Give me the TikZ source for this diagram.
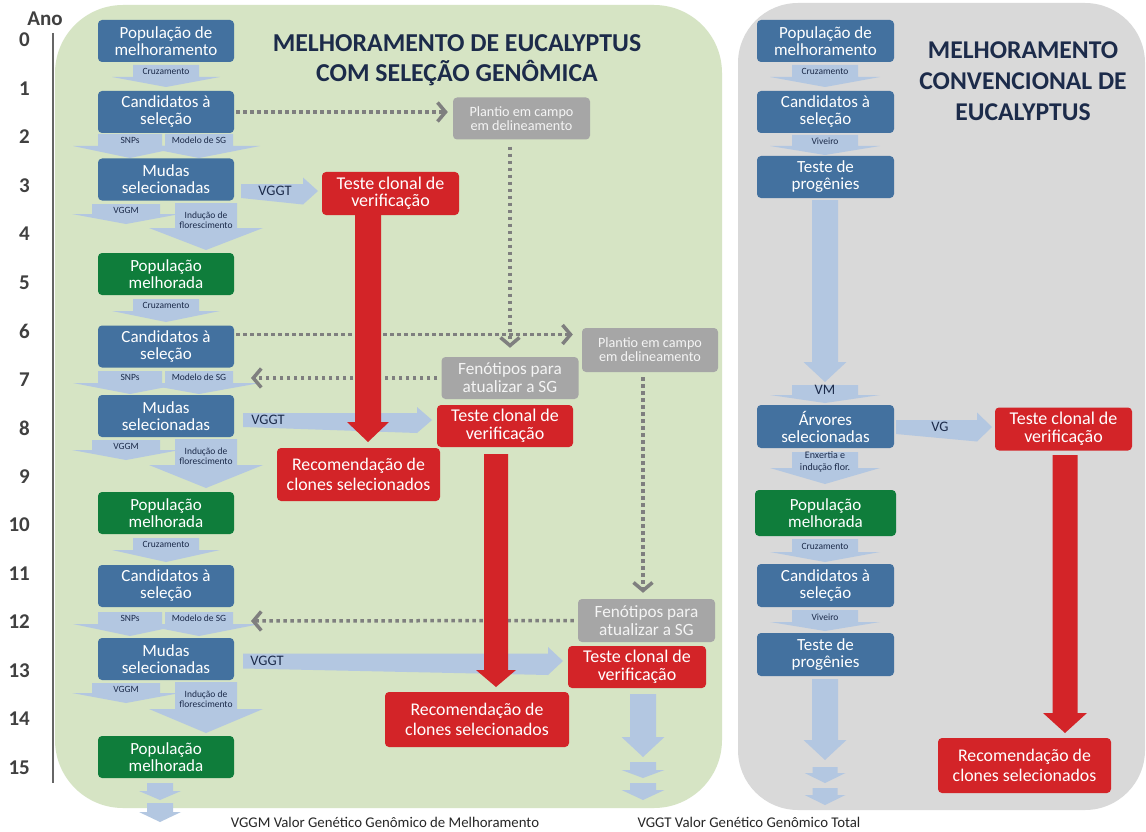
\documentclass[tikz,border=0pt]{standalone}
\usepackage{fontspec}
\setmainfont{Carlito}
\usetikzlibrary{arrows.meta}
\definecolor{panelgreen}{HTML}{D6E4C4}
\definecolor{panelgray}{HTML}{D9D9D9}
\definecolor{boxblue}{HTML}{43719F}
\definecolor{boxgreen}{HTML}{0F7D3B}
\definecolor{boxred}{HTML}{D32428}
\definecolor{boxgray}{HTML}{A6A6A6}
\definecolor{graytext}{HTML}{F4F4F4}
\definecolor{arrowblue}{HTML}{B3C7E1}
\definecolor{dotgray}{HTML}{7F7F7F}
\definecolor{navy}{HTML}{1C2B4A}
\definecolor{yeargray}{HTML}{404040}
\newcommand\DArr[7][arrowblue]{\fill[#1] (#2-#4,#3) -- (#2+#4,#3) -- (#2+#4,#5) -- (#2+#6,#5) -- (#2,#7) -- (#2-#6,#5) -- (#2-#4,#5) -- cycle;}
\newcommand\RArr[7][arrowblue]{\fill[#1] (#3,#2-#4) -- (#5,#2-#4) -- (#5,#2-#6) -- (#7,#2) -- (#5,#2+#6) -- (#3,#2+#4) -- cycle;}
\begin{document}
\begin{tikzpicture}[x=1pt,y=-1pt,
 boxbase/.style={rounded corners=4pt, align=center, inner sep=0pt, text=white},
 bluebox/.style={boxbase, fill=boxblue, minimum width=136pt, minimum height=42pt, font=\fontsize{17}{17}\selectfont},
 greenbox/.style={boxbase, fill=boxgreen, minimum width=136pt, minimum height=42pt, font=\fontsize{17}{17}\selectfont},
 redbox/.style={boxbase, fill=boxred, minimum width=137pt, minimum height=43pt, font=\fontsize{18}{17.5}\selectfont},
 recbox/.style={boxbase, fill=boxred, minimum height=54pt, font=\fontsize{17.8}{20}\selectfont},
 plantbox/.style={boxbase, fill=boxgray, text=graytext, minimum width=137pt, minimum height=42pt, font=\fontsize{14.2}{14}\selectfont},
 fenbox/.style={boxbase, fill=boxgray, text=graytext, minimum width=137pt, minimum height=42pt, font=\fontsize{17.2}{18}\selectfont},
 albl/.style={font=\fontsize{9.5}{10}\selectfont, text=navy, inner sep=0pt, align=center},
 mlbl/.style={font=\fontsize{14.5}{14}\selectfont, text=navy, inner sep=0pt},
 dotconn/.style={draw=dotgray, line width=3.5pt, dash pattern=on 3.5pt off 3.5pt, -{Straight Barb[length=8pt,width=19pt,line width=3.5pt]}},
 yearlbl/.style={font=\fontsize{21}{21}\selectfont\bfseries, text=yeargray, inner sep=0pt, anchor=east},
 ttl/.style={font=\fontsize{25.8}{30}\selectfont\bfseries, text=navy, align=center, inner sep=0pt},
 ttlr/.style={font=\fontsize{25.6}{31}\selectfont\bfseries, text=navy, align=center, inner sep=0pt},
 foot/.style={font=\fontsize{14.8}{14}\selectfont, text=black!85, inner sep=0pt}
]
\useasboundingbox (0,0) rectangle (1146,832);
\fill[white] (0,0) rectangle (1146,832);
% panels
\fill[panelgreen, rounded corners=68pt] (55,5) rectangle (722,808);
\fill[panelgray, rounded corners=60pt] (738,3) rectangle (1145,810);
% year axis
\node[yearlbl, anchor=center] (ano) at (45,19) {Ano};
\foreach \n in {0,...,15} \node[yearlbl] (yr\n) at (30,40+48.5*\n) {\n};
\draw[yeargray!80, line width=2pt] (53,33) -- (53,783);
% titles
\node[ttl] (t1) at (457,60) {MELHORAMENTO DE EUCALYPTUS\\COM SELEÇÃO GENÔMICA};
\node[ttlr] (t2) at (1023,81) {MELHORAMENTO\\CONVENCIONAL DE\\EUCALYPTUS};
% ---------- left column block arrows ----------
\DArr{166}{65}{33}{77}{54}{87}
\DArr{166}{299}{33}{311}{54}{322}
\DArr{166}{538}{33}{550}{54}{562}
\DArr{130}{134}{32}{146}{57}{158}
\DArr{199}{134}{34}{146}{61}{158}
\DArr{130}{371}{32}{383}{57}{394}
\DArr{199}{371}{34}{383}{61}{394}
\DArr{130}{612}{32}{624}{57}{636}
\DArr{199}{612}{34}{624}{61}{636}
\DArr{126}{204}{34}{214}{54}{224}
\DArr{206}{203}{31}{228}{57}{250}
\DArr{126}{440}{34}{450}{54}{460}
\DArr{206}{439}{31}{465}{57}{488}
\DArr{126}{683}{34}{693}{54}{703}
\DArr{206}{682}{31}{709}{57}{733}
\DArr{160}{783}{13}{791}{21}{800}
\DArr{160}{803}{13}{812}{21}{822}
% ---------- right column block arrows ----------
\DArr{825}{65}{33}{77}{55}{87}
\DArr{825}{135}{33}{146}{55}{155}
\DArr{825}{200}{13}{362}{21.5}{382}
\DArr{825}{385}{33}{395}{55}{403}
\DArr{825}{452}{33}{468}{55}{484}
\DArr{825}{539}{33}{552}{55}{562}
\DArr{825}{610}{33}{622}{55}{631}
\DArr{825}{679}{13}{740}{21.5}{760}
\DArr{825}{767}{12.5}{773}{20.5}{783}
\DArr{825}{788}{12.5}{795}{20.5}{805}
\RArr{427}{896}{7}{977}{14.5}{992}
% ---------- middle block arrows ----------
\RArr{191}{241}{7}{303}{13.5}{318}
\RArr{420}{243}{7}{417}{13}{432}
\RArr{661}{243}{7.5}{548}{14}{563}
\DArr{643}{694}{13}{737}{21.5}{757}
\DArr{643}{762}{13}{770}{21.5}{778}
\DArr{643}{783}{13}{790}{21.5}{800}
% ---------- left column boxes ----------
\node[bluebox] (L0) at (166,41) {População de\\melhoramento};
\node[bluebox] (L1) at (166,112) {Candidatos à\\seleção};
\node[bluebox] (L2) at (166,179.5) {Mudas\\selecionadas};
\node[greenbox] (L3) at (166,274) {População\\melhorada};
\node[bluebox] (L4) at (166,346.5) {Candidatos à\\seleção};
\node[bluebox] (L5) at (166,416) {Mudas\\selecionadas};
\node[greenbox] (L6) at (166,513) {População\\melhorada};
\node[bluebox] (L7) at (166,586) {Candidatos à\\seleção};
\node[bluebox] (L8) at (166,659) {Mudas\\selecionadas};
\node[greenbox] (L9) at (166,757) {População\\melhorada};
% arrow labels left
\node[albl] (c1) at (166,71) {Cruzamento};
\node[albl] (c2) at (166,305) {Cruzamento};
\node[albl] (c3) at (166,544) {Cruzamento};
\node[albl] (s1) at (130,140.5) {SNPs};
\node[albl] (m1) at (199,140.5) {Modelo de SG};
\node[albl] (s2) at (130,377.5) {SNPs};
\node[albl] (m2) at (199,377.5) {Modelo de SG};
\node[albl] (s3) at (130,618.5) {SNPs};
\node[albl] (m3) at (199,618.5) {Modelo de SG};
\node[albl] (g1) at (126,210) {VGGM};
\node[albl] (i1) at (206,220) {Indução de\\florescimento};
\node[albl] (g2) at (126,446) {VGGM};
\node[albl] (i2) at (206,456) {Indução de\\florescimento};
\node[albl] (g3) at (126,689) {VGGM};
\node[albl] (i3) at (206,699) {Indução de\\florescimento};
% ---------- right column boxes ----------
\node[bluebox, minimum width=137pt] (R0) at (825.5,41) {População de\\melhoramento};
\node[bluebox, minimum width=137pt] (R1) at (825.5,112) {Candidatos à\\seleção};
\node[bluebox, minimum width=137pt] (R2) at (825.5,177) {Teste de\\progênies};
\node[bluebox, minimum width=137pt, minimum height=43pt] (R3) at (825.5,426.5) {Árvores\\selecionadas};
\node[greenbox, minimum width=141pt, minimum height=46pt] (R4) at (825.5,513) {População\\melhorada};
\node[bluebox, minimum width=137pt, minimum height=43pt] (R5) at (825.5,585.5) {Candidatos à\\seleção};
\node[bluebox, minimum width=137pt, minimum height=43pt] (R6) at (825.5,654.5) {Teste de\\progênies};
\node[redbox] (RT) at (1063.5,429) {Teste clonal de\\verificação};
\node[albl] (rc1) at (825,71) {Cruzamento};
\node[albl] (rv1) at (825,141) {Viveiro};
\node[mlbl] (vm) at (825,390) {VM};
\node[mlbl] (vg) at (940,427) {VG};
\node[albl, font=\fontsize{10}{12}\selectfont] (enx) at (825,462) {Enxertia e\\indução flor.};
\node[albl] (rc2) at (825,546) {Cruzamento};
\node[albl] (rv2) at (825,617) {Viveiro};
% ---------- middle boxes ----------
\node[plantbox] (P1) at (521.5,118.5) {Plantio em campo\\em delineamento};
\node[plantbox, minimum width=136pt, minimum height=44pt] (P2) at (650,350) {Plantio em campo\\em delineamento};
\node[fenbox] (F1) at (510,378) {Fenótipos para\\atualizar a SG};
\node[fenbox, minimum height=43pt] (F2) at (646.5,620.5) {Fenótipos para\\atualizar a SG};
\node[mlbl] (vt1) at (275,191) {VGGT};
\node[mlbl] (vt2) at (268,420) {VGGT};
\node[mlbl] (vt3) at (267,661) {VGGT};
% dotted connectors
\coordinate (sg2) at (251,378);
\coordinate (sg3) at (251,621);
\draw[dotconn, shorten <=2pt, shorten >=5pt] (L1.east) -- (L1.east -| P1.west);
\draw[dotconn, shorten <=7pt, shorten >=9pt] (F1.north |- P1.south) -- (F1.north);
\draw[dotconn, shorten <=2pt, shorten >=9pt] ([yshift=12pt]L4.east) -- ([yshift=12pt]L4.east -| P2.west);
\draw[dotconn, shorten <=4pt] (F1.west) -- (sg2);
\draw[dotconn, shorten <=5pt, shorten >=6pt] ([xshift=-7pt]P2.south) -- ([xshift=-7pt]P2.south |- F2.north);
\draw[dotconn, shorten <=4pt] (F2.west) -- (sg3);
% red flow
\node[redbox] (T1) at (390.5,193.5) {Teste clonal de\\verificação};
\node[redbox, minimum width=136pt, minimum height=42pt] (T2) at (505,426) {Teste clonal de\\verificação};
\node[redbox, minimum width=138pt, minimum height=42pt] (T3) at (637,667) {Teste clonal de\\verificação};
\DArr[boxred]{368}{214}{13}{422}{21}{442}
\DArr[boxred]{496}{454}{12}{670}{20}{687}
\DArr[boxred]{1065}{455}{12.5}{713}{22}{733}
\node[recbox, minimum width=163pt, minimum height=53pt] (Rec1) at (358.5,474.5) {Recomendação de\\clones selecionados};
\node[recbox, minimum width=184pt, minimum height=55pt] (Rec2) at (477,719.5) {Recomendação de\\clones selecionados};
\node[recbox, minimum width=173pt, minimum height=55pt] (Rec3) at (1024.5,765.5) {Recomendação de\\clones selecionados};
% footer
\node[foot] (f1) at (385,822) {VGGM Valor Genético Genômico de Melhoramento};
\node[foot] (f2) at (749,822) {VGGT Valor Genético Genômico Total};
\end{tikzpicture}
\end{document}
